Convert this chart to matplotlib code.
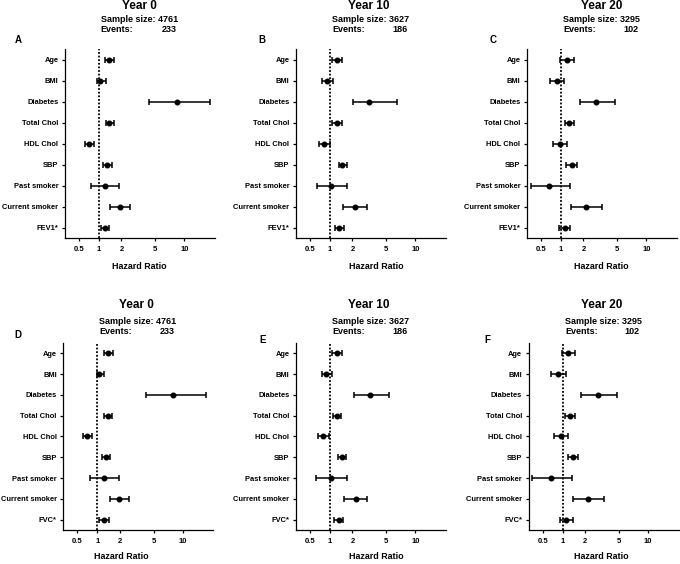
import numpy as np
import matplotlib
matplotlib.use("Agg")
import matplotlib.pyplot as plt

plt.rcParams['font.family'] = ['Liberation Sans', 'DejaVu Sans']
plt.rcParams['font.weight'] = 'bold'

# ---------------- data ----------------
labels_top = ["Age", "BMI", "Diabetes", "Total Chol", "HDL Chol", "SBP",
              "Past smoker", "Current smoker", "FEV1*"]
labels_bot = ["Age", "BMI", "Diabetes", "Total Chol", "HDL Chol", "SBP",
              "Past smoker", "Current smoker", "FVC*"]

years = ["Year 0", "Year 10", "Year 20"]
sample_sizes = [4761, 3627, 3295]
events = [233, 186, 102]
letters_top = ["A", "B", "C"]
letters_bot = ["D", "E", "F"]

# Panel A
hr_A = [1.375, 1.04, 8.5, 1.375, 0.715, 1.305, 1.20, 1.90, 1.20]
lo_A = [1.21, 0.93, 4.27, 1.24, 0.615, 1.15, 0.757, 1.43, 1.056]
hi_A = [1.60, 1.24, 17.3, 1.59, 0.857, 1.51, 1.86, 2.56, 1.39]
# Panel B
hr_B = [1.25, 0.916, 3.22, 1.25, 0.81, 1.48, 1.033, 2.13, 1.33]
lo_B = [1.067, 0.775, 2.05, 1.07, 0.684, 1.32, 0.636, 1.52, 1.16]
hi_B = [1.46, 1.10, 6.53, 1.46, 0.99, 1.69, 1.69, 3.02, 1.555]
# Panel C
hr_C = [1.20, 0.886, 2.86, 1.28, 0.957, 1.42, 0.675, 2.13, 1.126]
lo_C = [0.978, 0.683, 1.79, 1.126, 0.757, 1.187, 0.344, 1.39, 0.936]
hi_C = [1.49, 1.114, 4.69, 1.49, 1.20, 1.65, 1.33, 3.40, 1.347]
# Panel D
hr_D = [1.40, 1.067, 8.03, 1.40, 0.715, 1.32, 1.24, 1.955, 1.24]
lo_D = [1.226, 0.978, 4.09, 1.25, 0.622, 1.175, 0.783, 1.48, 1.067]
hi_D = [1.62, 1.24, 16.7, 1.60, 0.838, 1.49, 1.94, 2.63, 1.43]
# Panel E
hr_E = [1.24, 0.886, 3.30, 1.24, 0.80, 1.46, 1.02, 2.20, 1.32]
lo_E = [1.056, 0.766, 2.11, 1.09, 0.675, 1.305, 0.622, 1.57, 1.14]
hi_E = [1.46, 1.08, 5.32, 1.43, 0.968, 1.67, 1.72, 3.05, 1.51]
# Panel F
hr_F = [1.19, 0.857, 2.86, 1.265, 0.947, 1.375, 0.675, 2.20, 1.114]
lo_F = [0.968, 0.667, 1.77, 1.09, 0.75, 1.175, 0.34, 1.40, 0.916]
hi_F = [1.46, 1.114, 4.71, 1.49, 1.19, 1.62, 1.33, 3.43, 1.375]

x_ticks = [0.5, 1, 2, 5, 10]
x_ticklabels = ["0.5", "1", "2", "5", "10"]

# ---------------- layout ----------------
W, H = 680, 564
fig = plt.figure(figsize=(W / 100, H / 100), dpi=100)

def px_axes(l, t, r, b):
    return fig.add_axes([l / W, 1 - b / H, (r - l) / W, (b - t) / H])

def ftext(x, y, s, **kw):
    fig.text(x / W, 1 - y / H, s, **kw)

P = 0.16
def fwd(x):
    return np.power(np.maximum(np.asarray(x, dtype=float), 1e-9), P)
def inv(y):
    return np.power(np.maximum(np.asarray(y, dtype=float), 1e-9), 1 / P)

def draw_panel(ax, labels, hr, lo, hi):
    hr = np.array(hr); lo = np.array(lo); hi = np.array(hi)
    y = np.arange(len(labels))
    ax.set_xscale('function', functions=(fwd, inv))
    ax.set_xlim(0.294, 19.3)
    ax.set_ylim(len(labels) - 0.5, -0.5)
    ax.axvline(1, color='black', lw=1.3, ls=(0, (1, 1)), zorder=1)
    ax.errorbar(hr, y, xerr=[hr - lo, hi - hr], fmt='o', color='black',
                ms=3.3, capsize=1.9, elinewidth=1.1, capthick=1.1, zorder=3)
    ax.set_xticks(x_ticks)
    ax.set_xticklabels(x_ticklabels)
    ax.xaxis.set_minor_locator(matplotlib.ticker.NullLocator())
    ax.set_yticks(y)
    ax.set_yticklabels(labels)
    for s in ['top', 'right']:
        ax.spines[s].set_visible(False)
    for s in ['left', 'bottom']:
        ax.spines[s].set_linewidth(0.9)
    ax.tick_params(axis='x', length=2.5, width=0.9, pad=3.5, labelsize=5.5)
    ax.tick_params(axis='y', length=2.5, width=0.9, pad=2.2, labelsize=5.4)
    for t in ax.get_xticklabels() + ax.get_yticklabels():
        t.set_fontweight('bold')

top_data = [(hr_A, lo_A, hi_A), (hr_B, lo_B, hi_B), (hr_C, lo_C, hi_C)]
bot_data = [(hr_D, lo_D, hi_D), (hr_E, lo_E, hi_E), (hr_F, lo_F, hi_F)]

top_left = [65, 296, 527]
bot_left = [63.3, 296, 528.7]

for i in range(3):
    ax = px_axes(top_left[i], 49, top_left[i] + 150, 238)
    draw_panel(ax, labels_top, *top_data[i])
    ax = px_axes(bot_left[i], 343, bot_left[i] + 150, 530)
    draw_panel(ax, labels_bot, *bot_data[i])

# ---------------- texts ----------------
title_x_top = [139, 368.3, 601.7]
title_x_bot = [136.7, 368.3, 601.7]
ss_left_top = [100.7, 332.3, 563.3]
ss_left_bot = [99.3, 332.3, 565]
ev_right_top = [176.7, 407.7, 639]
ev_right_bot = [175, 407.7, 640]
letter_top = [(18, 40), (262.3, 40), (493.3, 40)]
letter_bot = [(18.3, 335), (262.3, 340), (487.3, 340)]
hr_x_top = [139, 376.7, 601.7]
hr_x_bot = [121.7, 376.7, 601.7]

for i in range(3):
    # top row
    ftext(title_x_top[i], 6, years[i], ha='center', va='center', fontsize=8.5, fontweight='bold')
    ftext(ss_left_top[i], 19.5, "Sample size: %d" % sample_sizes[i], ha='left', va='center', fontsize=6.5, fontweight='bold')
    ftext(ss_left_top[i], 30, "Events:", ha='left', va='center', fontsize=6.5, fontweight='bold')
    ftext(ev_right_top[i], 30, "%d" % events[i], ha='right', va='center', fontsize=6.5, fontweight='bold')
    ftext(letter_top[i][0], letter_top[i][1], letters_top[i], ha='center', va='center', fontsize=7, fontweight='bold')
    ftext(hr_x_top[i], 267, "Hazard Ratio", ha='center', va='center', fontsize=6.4, fontweight='bold')
    # bottom row
    ftext(title_x_bot[i], 305, years[i], ha='center', va='center', fontsize=8.5, fontweight='bold')
    ftext(ss_left_bot[i], 321.7, "Sample size: %d" % sample_sizes[i], ha='left', va='center', fontsize=6.5, fontweight='bold')
    ftext(ss_left_bot[i], 332, "Events:", ha='left', va='center', fontsize=6.5, fontweight='bold')
    ftext(ev_right_bot[i], 332, "%d" % events[i], ha='right', va='center', fontsize=6.5, fontweight='bold')
    ftext(letter_bot[i][0], letter_bot[i][1], letters_bot[i], ha='center', va='center', fontsize=7, fontweight='bold')
    ftext(hr_x_bot[i], 556.7, "Hazard Ratio", ha='center', va='center', fontsize=6.4, fontweight='bold')

fig.savefig("out.png", dpi=100)
